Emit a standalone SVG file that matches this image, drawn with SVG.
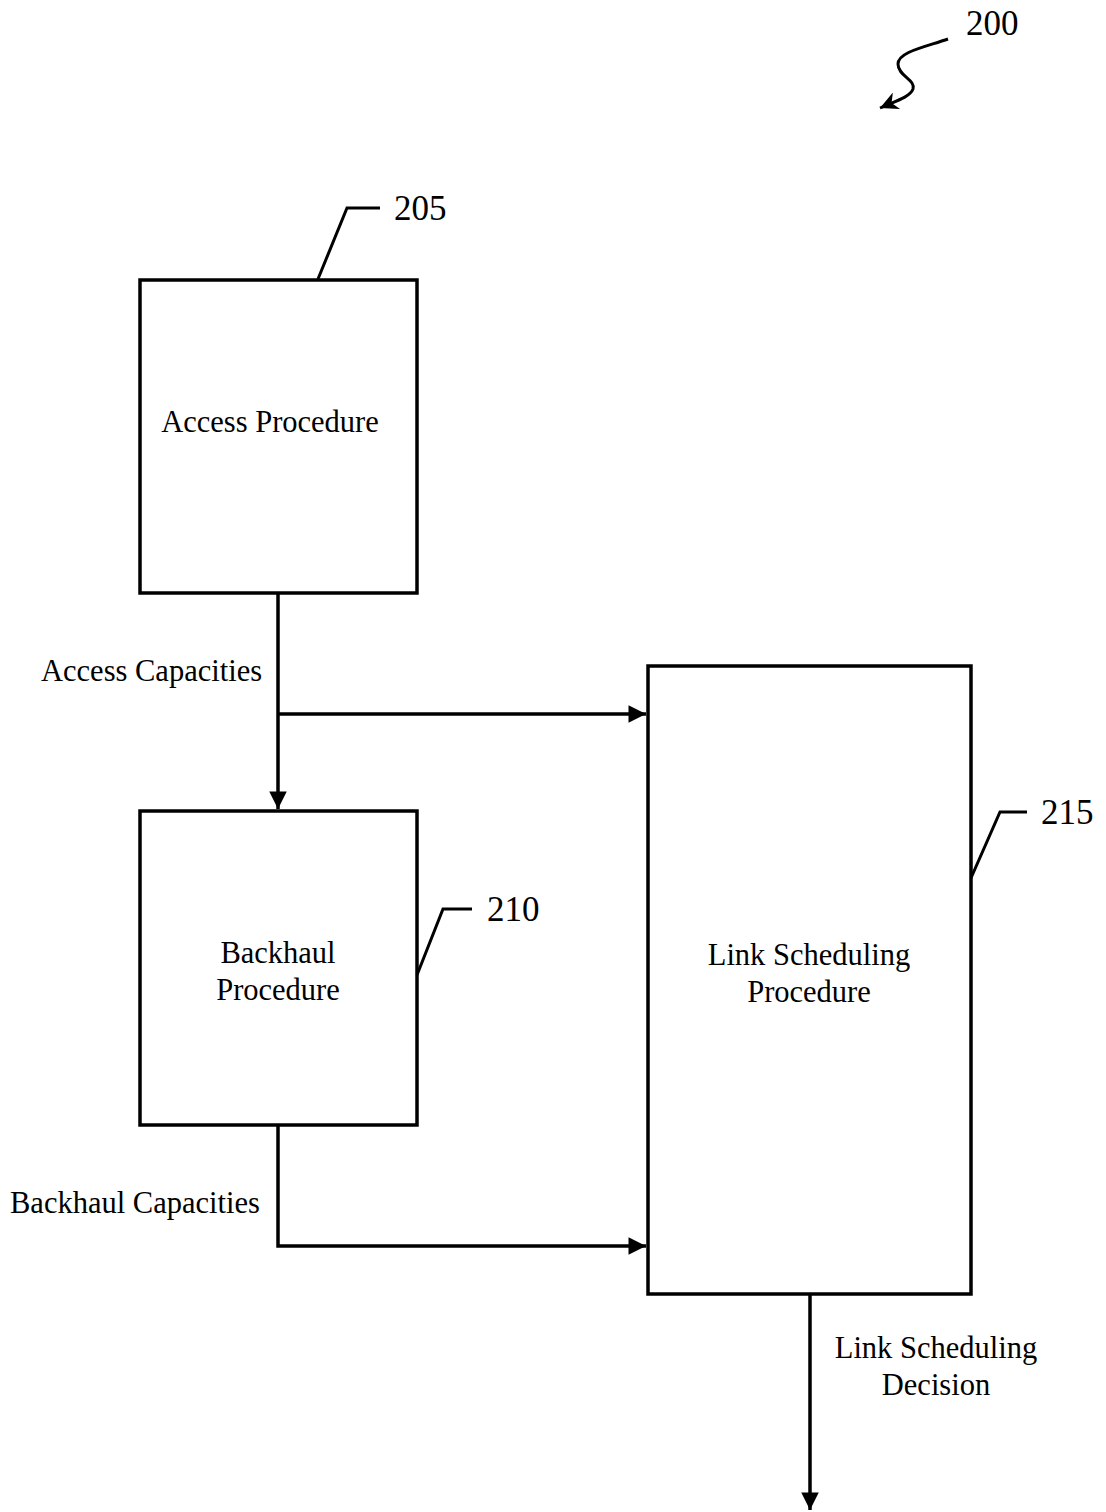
<svg xmlns="http://www.w3.org/2000/svg" width="1106" height="1512" viewBox="0 0 1106 1512">
<style>
.box{fill:#fff;stroke:#000;stroke-width:3.5}
.ln{fill:none;stroke:#000;stroke-width:3.5}
.ld{fill:none;stroke:#000;stroke-width:3}
text{font-family:"Liberation Serif","Times New Roman",serif;fill:#000}
.t{font-size:30.5px}
.n{font-size:35px}
</style>
<defs>
<marker id="ah" viewBox="0 0 10 10" refX="10" refY="5" markerWidth="5.5" markerHeight="5" markerUnits="strokeWidth" orient="auto">
<path d="M0,0 L10,5 L0,10 z" fill="#000"/>
</marker>
<marker id="ah2" viewBox="0 0 10 10" refX="10" refY="5" markerWidth="7" markerHeight="6" markerUnits="strokeWidth" orient="auto">
<path d="M0,0 L10,5 L0,10 L3,5 z" fill="#000"/>
</marker>
</defs>
<g id="label-200">
<text class="n" x="966" y="35">200</text>
<path class="ld" d="M948,39 C925,47 898,52 898,64 C898,76 916,80 913,89 C910,97 896,101 880,108" marker-end="url(#ah2)"/>
</g>
<g id="node-205">
<rect class="box" x="140" y="280" width="277" height="313"/>
<text class="t" x="270" y="432" text-anchor="middle">Access Procedure</text>
<path class="ld" d="M318,279 L347,208 L380,208"/>
<text class="n" x="394" y="220">205</text>
</g>
<g id="node-210">
<rect class="box" x="140" y="811" width="277" height="314"/>
<text class="t" x="278" y="963" text-anchor="middle">Backhaul</text>
<text class="t" x="278" y="1000" text-anchor="middle">Procedure</text>
<path class="ld" d="M417,975 L443,909 L472,909"/>
<text class="n" x="487" y="921">210</text>
</g>
<g id="node-215">
<rect class="box" x="648" y="666" width="323" height="628"/>
<text class="t" x="809" y="965" text-anchor="middle">Link Scheduling</text>
<text class="t" x="809" y="1002" text-anchor="middle">Procedure</text>
<path class="ld" d="M971,878 L1000,812 L1027,812"/>
<text class="n" x="1041" y="824">215</text>
</g>
<g id="connectors">
<path class="ln" d="M278,593 L278,809" marker-end="url(#ah)"/>
<path class="ln" d="M278,714 L646,714" marker-end="url(#ah)"/>
<path class="ln" d="M278,1125 L278,1246 L646,1246" marker-end="url(#ah)"/>
<path class="ln" d="M810,1294 L810,1510" marker-end="url(#ah)"/>
<text class="t" x="41" y="681">Access Capacities</text>
<text class="t" x="10" y="1213">Backhaul Capacities</text>
<text class="t" x="936" y="1358" text-anchor="middle">Link Scheduling</text>
<text class="t" x="936" y="1395" text-anchor="middle">Decision</text>
</g>
</svg>
